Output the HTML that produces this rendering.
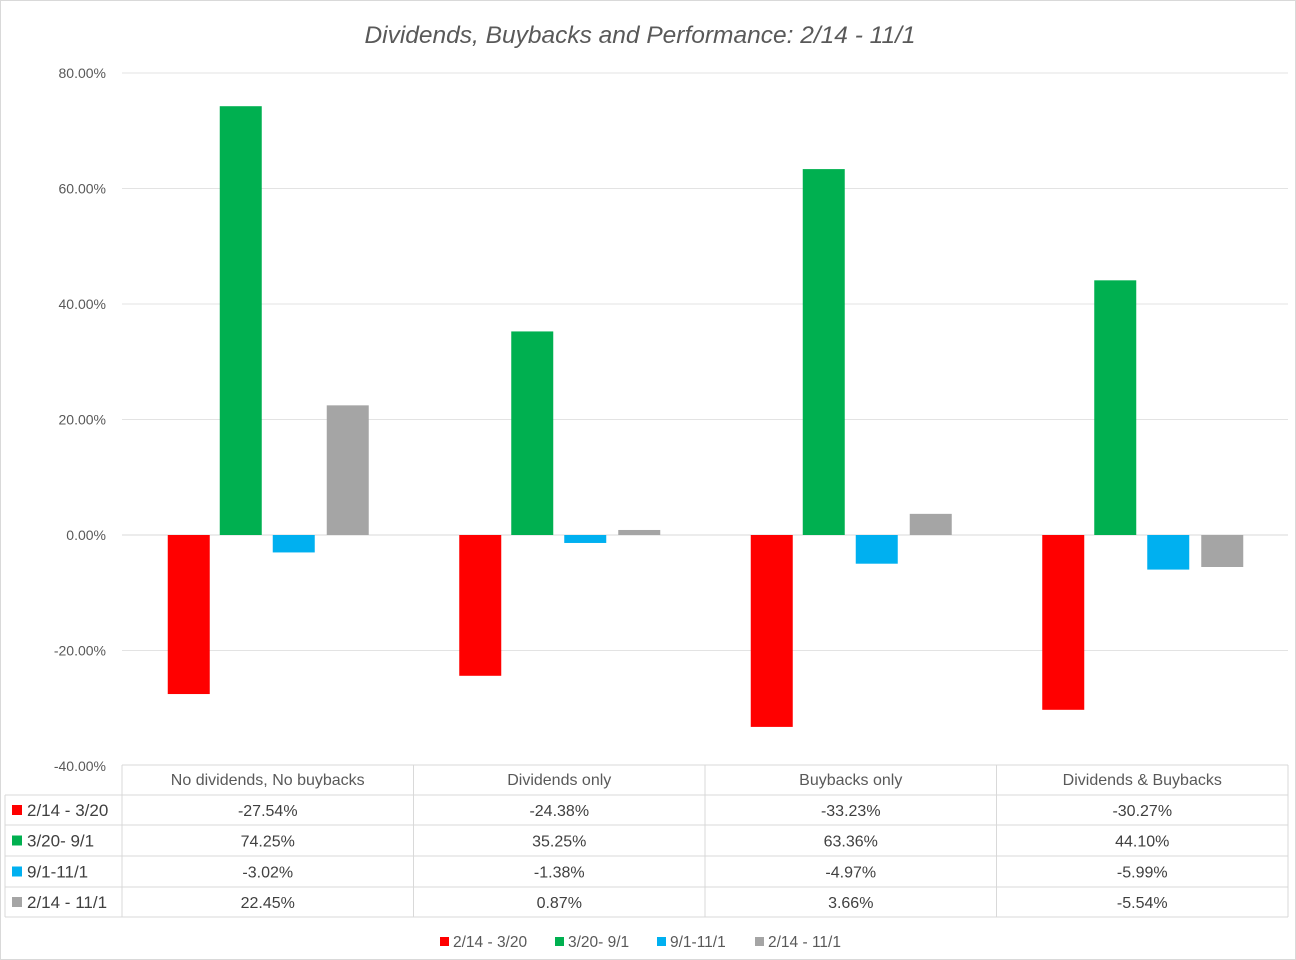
<!DOCTYPE html>
<html><head><meta charset="utf-8"><style>
body{margin:0;background:#fff;}
svg{display:block;font-family:"Liberation Sans",sans-serif;}
</style></head><body>
<svg id="c" width="1296" height="960">
<rect x="0.5" y="0.5" width="1295" height="959" fill="#fff" stroke="#d9d9d9"/>
<text x="640" y="43" text-anchor="middle" font-size="24.5" font-style="italic" fill="#595959">Dividends, Buybacks and Performance: 2/14 - 11/1</text>
<g id="grid"></g><g id="bars"></g><g id="table"></g><g id="legend"></g>
</svg>
<script>
const categories=["No dividends, No buybacks","Dividends only","Buybacks only","Dividends & Buybacks"];
const seriesNames=["2/14 - 3/20","3/20- 9/1","9/1-11/1","2/14 - 11/1"];
const s1=[-27.54,-24.38,-33.23,-30.27];
const s2=[74.25,35.25,63.36,44.10];
const s3=[-3.02,-1.38,-4.97,-5.99];
const s4=[22.45,0.87,3.66,-5.54];
const ticks=[80,60,40,20,0,-20,-40];
const colors=["#ff0000","#00b050","#00b0f0","#a5a5a5"];
const series=[s1,s2,s3,s4];
const NS="http://www.w3.org/2000/svg";
function mk(t,a,p,txt){const e=document.createElementNS(NS,t);for(const k in a)e.setAttribute(k,a[k]);if(txt!==undefined)e.textContent=txt;p.appendChild(e);return e;}
const y=v=>535-v*(462/80);
const x0=122,x1=1288,gw=(x1-x0)/categories.length;
const grid=document.getElementById('grid');
ticks.forEach(t=>{
 if(t>-40){const l=mk('line',{x1:x0,x2:x1,y1:y(t),y2:y(t),stroke:t===0?'#d9d9d9':'#e3e3e3'},grid);
 
 }
 const tx=mk('text',{x:106,y:y(t)+5,'text-anchor':'end','font-size':14,fill:'#595959'},grid,t.toFixed(2)+'%');
 
 
});
const bars=document.getElementById('bars');
const offs=[-79,-27,26,80];
categories.forEach((c,i)=>{
 const cx=x0+gw*(i+0.5);
 series.forEach((s,j)=>{
  const v=s[i];const yt=Math.min(y(v),y(0)),h=Math.abs(y(v)-y(0));
  const r=mk('rect',{x:cx+offs[j]-21,y:yt,width:42,height:h,fill:colors[j]},bars);
  
  
 });
});
const tb=document.getElementById('table');
const rows=[765,795,825,856,887,917];
const lc='#d9d9d9';
mk('line',{x1:x0,x2:x1,y1:765,y2:765,stroke:lc},tb);
for(let r=1;r<rows.length;r++)mk('line',{x1:5,x2:x1,y1:rows[r],y2:rows[r],stroke:lc},tb);
mk('line',{x1:5,x2:5,y1:795,y2:917,stroke:lc},tb);
for(let i=0;i<=4;i++)mk('line',{x1:x0+gw*i,x2:x0+gw*i,y1:765,y2:917,stroke:lc},tb);
categories.forEach((c,i)=>{
 const t=mk('text',{x:x0+gw*(i+0.5),y:785,'text-anchor':'middle','font-size':16,fill:'#595959'},tb,c);
 
 
});
series.forEach((s,j)=>{
 const cy=(rows[j+1]+rows[j+2])/2;
 mk('rect',{x:12,y:cy-5,width:10,height:10,fill:colors[j]},tb);
 const n=mk('text',{x:27,y:cy+6,'font-size':17,fill:'#404040'},tb,seriesNames[j]);
 
 
 s.forEach((v,i)=>{
  const t=mk('text',{x:x0+gw*(i+0.5),y:cy+6,'text-anchor':'middle','font-size':16,fill:'#404040'},tb,v.toFixed(2)+'%');
  
  
 });
});
const lg=document.getElementById('legend');
const lx=[440,555,657,755];
seriesNames.forEach((n,j)=>{
 const g=mk('g',{},lg);
 
 
 mk('rect',{x:lx[j],y:937,width:9,height:9,fill:colors[j]},g);
 mk('text',{x:lx[j]+13,y:947,'font-size':15.5,fill:'#595959'},g,n);
});
</script>
</body></html>
